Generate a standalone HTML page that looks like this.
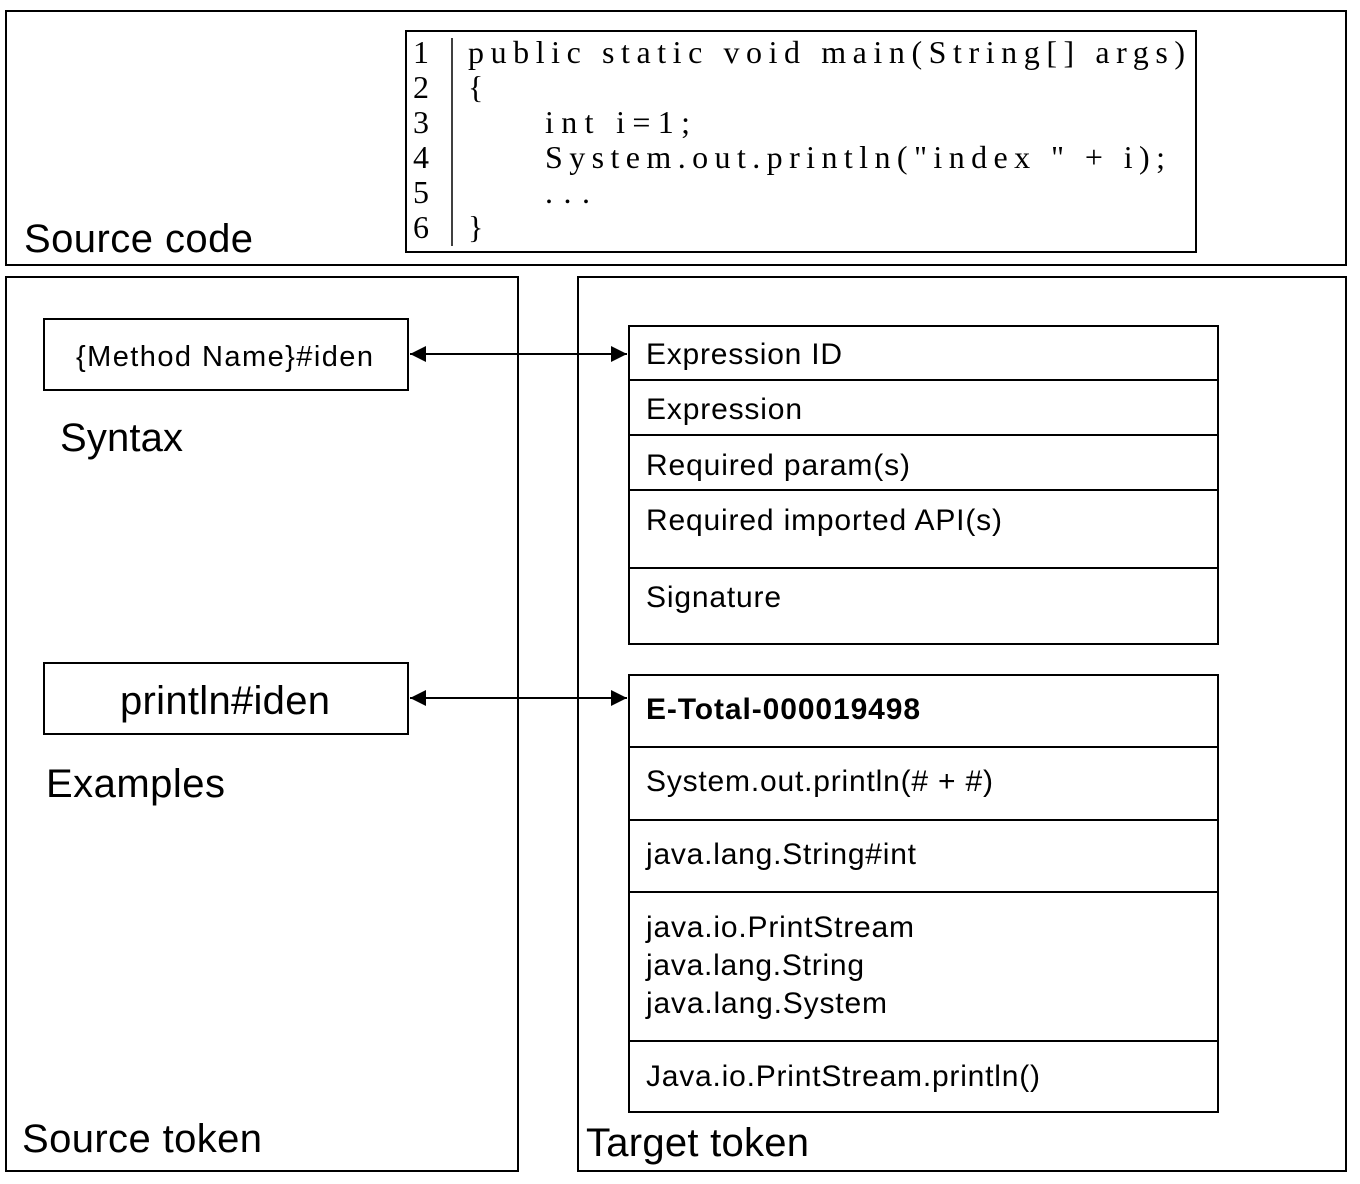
<!DOCTYPE html>
<html><head><meta charset="utf-8"><style>
html,body{margin:0;padding:0;background:#fff;}
svg{display:block;}
.s{font-family:"Liberation Sans",sans-serif;fill:#000;}
.c{font-family:"Liberation Serif",serif;fill:#000;font-size:32px;}
</style></head><body>
<svg width="1360" height="1184" viewBox="0 0 1360 1184" xmlns="http://www.w3.org/2000/svg">
<defs>
<marker id="a" viewBox="0 0 10 10" refX="10" refY="5" markerWidth="8" markerHeight="8" orient="auto-start-reverse"><path d="M0,0 L10,5 L0,10 z" fill="#000"/></marker>
</defs>
<g fill="none" stroke="#000" stroke-width="2">
<rect x="6" y="11" width="1340" height="254"/>
<rect x="406" y="31" width="790" height="221"/>
<line x1="452" y1="38" x2="452" y2="246" stroke-width="1.5"/>
<rect x="6" y="277" width="512" height="894"/>
<rect x="578" y="277" width="768" height="894"/>
<rect x="44" y="319" width="364" height="71"/>
<rect x="44" y="663" width="364" height="71"/>
<rect x="629" y="326" width="589" height="318"/>
<line x1="629" y1="380" x2="1218" y2="380"/><line x1="629" y1="435" x2="1218" y2="435"/>
<line x1="629" y1="490" x2="1218" y2="490"/><line x1="629" y1="568" x2="1218" y2="568"/>
<rect x="629" y="675" width="589" height="437"/>
<line x1="629" y1="747" x2="1218" y2="747"/><line x1="629" y1="820" x2="1218" y2="820"/>
<line x1="629" y1="892" x2="1218" y2="892"/><line x1="629" y1="1041" x2="1218" y2="1041"/>
<line x1="410" y1="354" x2="627" y2="354" marker-start="url(#a)" marker-end="url(#a)"/>
<line x1="410" y1="698" x2="627" y2="698" marker-start="url(#a)" marker-end="url(#a)"/>
</g>
<g class="c">
<text x="413" y="63">1</text><text x="413" y="98">2</text><text x="413" y="133">3</text>
<text x="413" y="168">4</text><text x="413" y="203">5</text><text x="413" y="238">6</text>
<text x="468" y="63" textLength="717" lengthAdjust="spacing">public  static  void  main(String[]  args)</text>
<text x="468" y="98">{</text>
<text x="545" y="133" textLength="145" lengthAdjust="spacing">int  i=1;</text>
<text x="545" y="168" textLength="620" lengthAdjust="spacing">System.out.println("index  " + i);</text>
<text x="545" y="203" textLength="45" lengthAdjust="spacing">...</text>
<text x="468" y="238">}</text>
</g>
<g class="s">
<text x="24" y="252" font-size="40" textLength="229">Source code</text>
<text x="76" y="366" font-size="29" textLength="297">{Method Name}#iden</text>
<text x="60" y="451" font-size="40" textLength="123">Syntax</text>
<text x="120" y="714" font-size="40" textLength="210">println#iden</text>
<text x="46" y="797" font-size="40" textLength="179">Examples</text>
<text x="22" y="1152" font-size="40" textLength="240">Source token</text>
<text x="586" y="1156" font-size="40" textLength="223">Target token</text>
<g font-size="30">
<text x="646" y="364" textLength="196">Expression ID</text>
<text x="646" y="419" textLength="156">Expression</text>
<text x="646" y="475" textLength="264">Required param(s)</text>
<text x="646" y="530" textLength="356">Required imported API(s)</text>
<text x="646" y="607" textLength="135">Signature</text>
<text x="646" y="719" font-weight="bold" textLength="274">E-Total-000019498</text>
<text x="646" y="791" textLength="347">System.out.println(# + #)</text>
<text x="646" y="864" textLength="270">java.lang.String#int</text>
<text x="646" y="937" textLength="268">java.io.PrintStream</text>
<text x="646" y="975" textLength="218">java.lang.String</text>
<text x="646" y="1013" textLength="241">java.lang.System</text>
<text x="646" y="1086" textLength="394">Java.io.PrintStream.println()</text>
</g>
</g>
</svg>
</body></html>
